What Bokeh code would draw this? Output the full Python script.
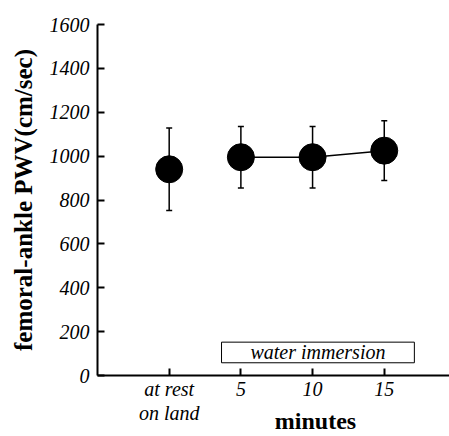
from bokeh.plotting import figure
from bokeh.models import (ColumnDataSource, Whisker, TeeHead, FixedTicker, Range1d,
                          BoxAnnotation, Label)
from bokeh.embed import file_html
from bokeh.resources import INLINE

# ---- data ----
categories = ["at rest\non land", "5", "10", "15"]
x_pos = [1, 2, 3, 4]
pwv_mean = [940, 995, 995, 1025]
pwv_sd = [188, 140, 140, 136]
y_ticks = [0, 200, 400, 600, 800, 1000, 1200, 1400, 1600]
immersion_start = 1.73
immersion_end = 4.42

upper = [m + s for m, s in zip(pwv_mean, pwv_sd)]
lower = [m - s for m, s in zip(pwv_mean, pwv_sd)]
src = ColumnDataSource(dict(x=x_pos, y=pwv_mean, upper=upper, lower=lower))
src_imm = ColumnDataSource(dict(x=x_pos[1:], y=pwv_mean[1:]))

FONT = "Liberation Serif"

p = figure(width=449, height=436, output_backend="svg", toolbar_location=None,
           x_range=Range1d(0, 4.91), y_range=Range1d(0, 1600),
           min_border_left=97, min_border_right=0, min_border_top=24, min_border_bottom=61)
p.outline_line_color = None
p.grid.visible = False
p.background_fill_color = "white"
p.border_fill_color = "white"

# error bars
w = Whisker(source=src, base="x", upper="upper", lower="lower",
            line_color="black", line_width=1.5,
            upper_head=TeeHead(size=6, line_width=1.5, line_color="black"),
            lower_head=TeeHead(size=6, line_width=1.5, line_color="black"))
p.add_layout(w)

# connecting line during immersion
p.line("x", "y", source=src_imm, line_color="black", line_width=1.5)
# markers
p.scatter("x", "y", source=src, marker="circle", size=27,
          fill_color="black", line_color="black")

# water immersion box
box = BoxAnnotation(left=immersion_start, right=immersion_end, bottom=58, top=152,
                    fill_alpha=0, line_color="black", line_alpha=1, line_width=1)
p.add_layout(box)
p.add_layout(Label(x=(immersion_start + immersion_end) / 2, y=105, text="water immersion",
                   text_align="center", text_baseline="middle",
                   text_font=FONT, text_font_style="italic", text_font_size="20px",
                   text_color="black"))

# axes
xa = p.xaxis[0]
xa.ticker = FixedTicker(ticks=x_pos)
xa.major_label_overrides = {x: c for x, c in zip(x_pos, categories)}
xa.minor_tick_line_color = None
xa.major_tick_in = 7
xa.major_tick_out = 0
xa.major_label_standoff = 2
xa.axis_line_width = 2
xa.major_tick_line_width = 2
xa.major_label_text_font = FONT
xa.major_label_text_font_style = "italic"
xa.major_label_text_font_size = "20px"
xa.major_label_text_color = "black"
xa.major_label_text_line_height = 1.1
# non-breaking spaces shift the centred title under the immersion ticks
xa.axis_label = "\u00a0" * 14 + "minutes"
xa.axis_label_text_font = FONT
xa.axis_label_text_font_style = "bold"
xa.axis_label_text_font_size = "24px"
xa.axis_label_text_color = "black"
xa.axis_label_standoff = -19

ya = p.yaxis[0]
ya.ticker = FixedTicker(ticks=y_ticks)
ya.minor_tick_line_color = None
ya.major_tick_in = 7
ya.major_tick_out = 0
ya.major_label_standoff = 8
ya.axis_line_width = 2
ya.major_tick_line_width = 2
ya.major_label_text_font = FONT
ya.major_label_text_font_style = "italic"
ya.major_label_text_font_size = "20px"
ya.major_label_text_color = "black"
ya.axis_label = "femoral-ankle PWV(cm/sec)"
ya.axis_label_text_font = FONT
ya.axis_label_text_font_style = "bold"
ya.axis_label_text_font_size = "25px"
ya.axis_label_text_color = "black"
ya.axis_label_standoff = 10

open("out.html", "w").write(file_html(p, INLINE))
